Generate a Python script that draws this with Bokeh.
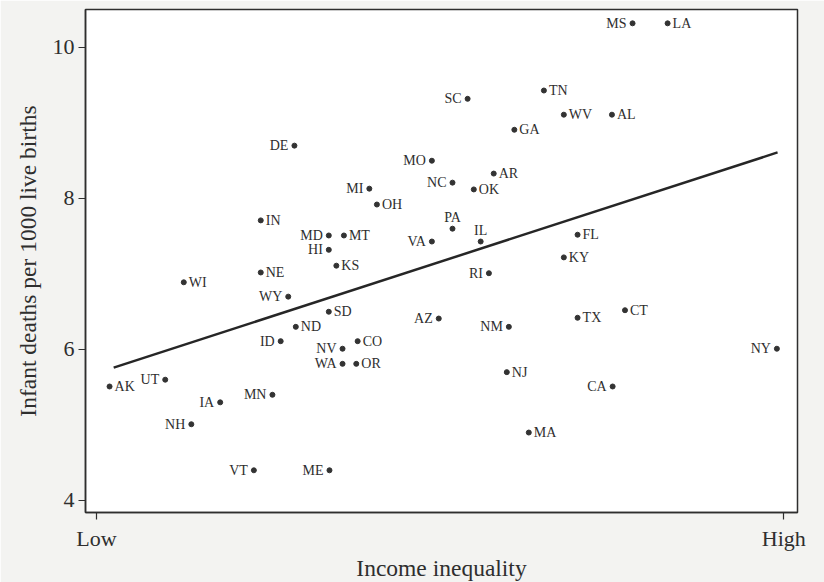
from bokeh.plotting import figure
from bokeh.models import Range1d, FixedTicker, ColumnDataSource
from bokeh.core.properties import value
from bokeh.embed import file_html
from bokeh.resources import INLINE

# ---- data (income inequality index: 0 = Low, 100 = High) ----
states = ["AK", "UT", "IA", "MN", "NH", "VT", "ME", "WI", "NE", "WY",
          "IN", "DE", "MI", "OH", "MD", "MT", "HI", "KS", "SD", "ND",
          "ID", "CO", "NV", "WA", "OR", "MO", "NC", "PA", "VA", "SC",
          "MS", "LA", "TN", "WV", "AL", "GA", "AR", "OK", "IL", "FL",
          "KY", "RI", "AZ", "CT", "TX", "NM", "NY", "NJ", "CA", "MA"]
inequality = [1.9, 10.0, 18.0, 25.6, 13.8, 22.9, 33.9, 12.7, 23.9, 27.9,
              23.9, 28.8, 39.7, 40.8, 33.8, 36.0, 33.8, 34.9, 33.8, 29.0,
              26.8, 38.0, 35.8, 35.8, 37.8, 48.8, 51.8, 51.8, 48.8, 54.0,
              78.0, 83.1, 65.1, 68.0, 75.0, 60.8, 57.8, 54.9, 55.9, 70.0,
              68.0, 57.1, 49.8, 76.9, 70.0, 60.0, 99.0, 59.7, 75.1, 62.9]
infant_deaths = [5.51, 5.60, 5.30, 5.40, 5.01, 4.40, 4.40, 6.89, 7.02, 6.70,
                 7.71, 8.70, 8.13, 7.92, 7.51, 7.51, 7.32, 7.11, 6.50, 6.30,
                 6.11, 6.11, 6.01, 5.81, 5.81, 8.50, 8.21, 7.60, 7.43, 9.32,
                 10.32, 10.32, 9.43, 9.11, 9.11, 8.91, 8.33, 8.12, 7.43, 7.52,
                 7.22, 7.01, 6.41, 6.52, 6.42, 6.30, 6.01, 5.70, 5.51, 4.90]
fit_x = [2.5, 99.1]
fit_y = [5.76, 8.61]
x_ticks = [0, 100]
x_tick_labels = ["Low", "High"]
y_ticks = [4, 6, 8, 10]

# label placement (layout only)
left_labels = {"MS", "SC", "DE", "MO", "NC", "MI", "MD", "HI", "VA", "WY",
               "AZ", "ID", "NV", "WA", "UT", "IA", "MN", "NH", "VT", "ME",
               "RI", "NM", "NY", "CA"}
above_labels = {"PA", "IL"}

FONT = "Liberation Serif"
INK = "#2e2e2e"

p = figure(frame_width=712, frame_height=503,
           x_range=Range1d(-1.6, 102.0), y_range=Range1d(3.841, 10.503),
           output_backend="svg", toolbar_location=None,
           min_border_left=85, min_border_right=27,
           min_border_top=9, min_border_bottom=70)

p.background_fill_color = "#ffffff"
p.border_fill_color = "#f3f3f1"
p.outline_line_color = INK
p.outline_line_width = 1.5
p.outline_line_alpha = 1.0
p.xgrid.visible = False
p.ygrid.visible = False

p.xaxis.ticker = FixedTicker(ticks=x_ticks)
p.xaxis.major_label_overrides = {t: l for t, l in zip(x_ticks, x_tick_labels)}
p.yaxis.ticker = FixedTicker(ticks=y_ticks)

for ax in (p.xaxis[0], p.yaxis[0]):
    ax.axis_line_color = INK
    ax.axis_line_width = 1.5
    ax.major_tick_line_color = INK
    ax.major_tick_line_width = 1.2
    ax.major_tick_out = 7
    ax.major_tick_in = 0
    ax.minor_tick_out = 0
    ax.minor_tick_in = 0
    ax.major_label_text_font = FONT
    ax.major_label_text_font_size = "22px"
    ax.major_label_text_color = INK
    ax.axis_label_text_font = FONT
    ax.axis_label_text_font_size = "23.5px"
    ax.axis_label_text_font_style = "normal"
    ax.axis_label_text_color = INK

p.xaxis.axis_label = "Income inequality"
p.yaxis.axis_label = "Infant deaths per 1000 live births"
p.xaxis.major_label_standoff = 6
p.xaxis.axis_label_standoff = 1
p.yaxis.major_label_standoff = 4
p.yaxis.axis_label_standoff = 9

# regression line
p.line(fit_x, fit_y, line_width=2.5, line_color="#262626")

# points
p.scatter(inequality, infant_deaths, size=5, fill_color="#333333", line_color="#333333")

# labels
def group(pred):
    idx = [i for i, s in enumerate(states) if pred(s)]
    return ColumnDataSource(dict(x=[inequality[i] for i in idx],
                                 y=[infant_deaths[i] for i in idx],
                                 t=[states[i] for i in idx]))

common = dict(text="t", text_font=value(FONT), text_font_size="14px", text_color=INK)
p.text(x="x", y="y", source=group(lambda s: s in left_labels),
       x_offset=-6, text_align="right", text_baseline="middle", **common)
p.text(x="x", y="y", source=group(lambda s: s not in left_labels and s not in above_labels),
       x_offset=5, text_align="left", text_baseline="middle", **common)
p.text(x="x", y="y", source=group(lambda s: s in above_labels),
       y_offset=-4, text_align="center", text_baseline="bottom", **common)

open("out.html", "w").write(file_html(p, INLINE))
